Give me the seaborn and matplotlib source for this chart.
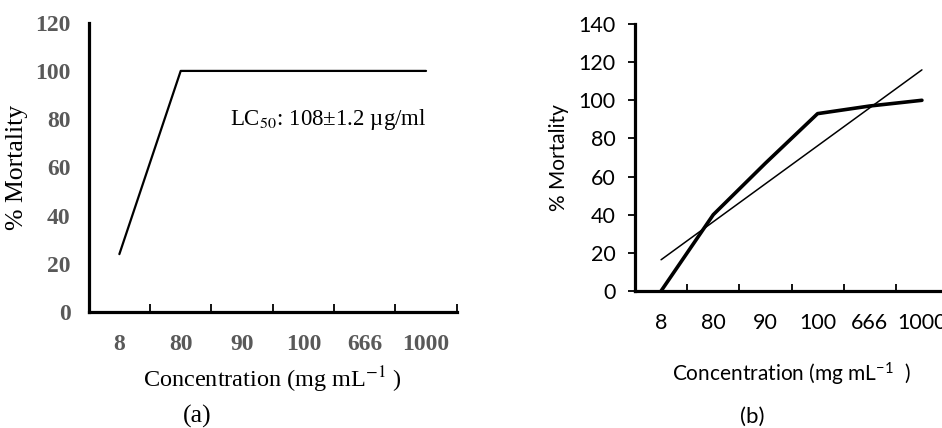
import numpy as np
import pandas as pd
import matplotlib
matplotlib.use("Agg")
import matplotlib.pyplot as plt
import seaborn as sns

# ---- data ----
concentrations = ["8", "80", "90", "100", "666", "1000"]
mortality_a = [24, 100, 100, 100, 100, 100]
mortality_b = [0, 40, 67, 93, 97, 100]
yticks_a = [0, 20, 40, 60, 80, 100, 120]
yticks_b = [0, 20, 40, 60, 80, 100, 120, 140]

sns.set_theme(style="white")
plt.rcParams["mathtext.fontset"] = "custom"
plt.rcParams["mathtext.rm"] = "Lato"
plt.rcParams["mathtext.it"] = "Lato:italic"
plt.rcParams["mathtext.bf"] = "Lato:bold"

pos = np.arange(len(concentrations))
df_a = pd.DataFrame({"pos": pos, "mortality": mortality_a})
df_b = pd.DataFrame({"pos": pos, "mortality": mortality_b})

fig = plt.figure(figsize=(9.42, 4.28), dpi=100)
W, H = 942, 428

def ax_rect(l, r, b, t):
    return [l / W, 1 - b / H, (r - l) / W, (b - t) / H]

# ---------------- panel (a) ----------------
ax1 = fig.add_axes(ax_rect(88.7, 456.7, 312, 22.7))
sns.lineplot(data=df_a, x="pos", y="mortality", ax=ax1, color="black",
             linewidth=1.6, sort=False)
ax1.set_xlim(-0.5, len(concentrations) - 0.5)
ax1.set_ylim(0, 120)
for s in ["top", "right"]:
    ax1.spines[s].set_visible(False)
for s in ["left", "bottom"]:
    ax1.spines[s].set_linewidth(2.3)
    ax1.spines[s].set_color("black")
ax1.set_xticks(pos)
ax1.set_xticklabels(concentrations, fontfamily="Liberation Serif",
                    fontweight="bold", fontsize=17, color="#595959")
ax1.set_xticks(np.arange(0.5, len(concentrations), 1.0), minor=True)
ax1.set_yticks(yticks_a)
ax1.set_yticklabels([str(v) for v in yticks_a], fontfamily="Liberation Serif",
                    fontweight="bold", fontsize=17, color="#595959")
ax1.tick_params(axis="x", which="major", direction="in", length=4, width=1.3,
                color="black", pad=16)
ax1.tick_params(axis="x", which="minor", direction="in", length=5.5, width=1.3,
                color="black", bottom=True)
ax1.tick_params(axis="y", which="major", length=0, pad=13)
ax1.set_xlabel(r"Concentration (mg mL$^{-1}$ )", fontfamily="Liberation Serif",
               fontsize=17.5, color="black", labelpad=7, math_fontfamily="stix")
ax1.set_ylabel("% Mortality", fontfamily="Liberation Serif", fontsize=18.5,
               color="black", labelpad=5)
ax1.text(0.917, 0.665, r"LC$_{50}$: 108±1.2 µg/ml", transform=ax1.transAxes,
         ha="right", va="center", fontfamily="Liberation Serif", fontsize=16.5,
         color="black", math_fontfamily="stix")
fig.text(197 / W, 1 - 416 / H, "(a)", ha="center", va="center",
         fontfamily="Liberation Serif", fontsize=18.5, color="black")

# ---------------- panel (b) ----------------
ax2 = fig.add_axes(ax_rect(635, 948, 291, 24))
sns.regplot(data=df_b, x="pos", y="mortality", ax=ax2, scatter=False, ci=None,
            truncate=True, line_kws={"color": "black", "linewidth": 1.1})
sns.lineplot(data=df_b, x="pos", y="mortality", ax=ax2, color="black",
             linewidth=2.6, sort=False)
ax2.set_xlim(-0.5, len(concentrations) - 0.5)
ax2.set_ylim(0, 140)
for s in ["top", "right"]:
    ax2.spines[s].set_visible(False)
for s in ["left", "bottom"]:
    ax2.spines[s].set_linewidth(2.3)
    ax2.spines[s].set_color("black")
ax2.set_xticks(pos)
ax2.set_xticklabels(concentrations, fontfamily="Lato", fontsize=15.5,
                    color="black")
ax2.set_xticks(np.arange(0.5, len(concentrations), 1.0), minor=True)
ax2.set_yticks(yticks_b)
ax2.set_yticklabels([str(v) for v in yticks_b], fontfamily="Lato",
                    fontsize=15.5, color="black")
ax2.tick_params(axis="x", which="major", direction="in", length=4, width=1.3,
                color="black", pad=16)
ax2.tick_params(axis="x", which="minor", direction="in", length=5, width=1.3,
                color="black", bottom=True)
ax2.tick_params(axis="y", which="major", direction="out", length=5, width=1.3,
                color="black", pad=9, left=True)
ax2.set_xlabel(r"Concentration (mg mL$^{-1}$  )", fontfamily="Lato",
               fontsize=15, color="black", labelpad=20, math_fontfamily="custom")
ax2.set_ylabel("% Mortality", fontfamily="Lato", fontsize=15,
               color="black", labelpad=7)
fig.text(752 / W, 1 - 417 / H, "(b)", ha="center", va="center",
         fontfamily="Lato", fontsize=16, color="black")

fig.savefig("out.png", dpi=100)
